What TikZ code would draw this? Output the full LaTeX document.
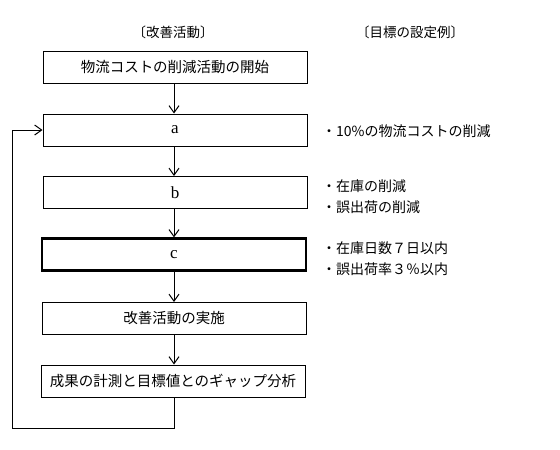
\documentclass[tikz,border=0pt]{standalone}
\usepackage{fontspec}
\newfontfamily\jpfont{Noto Sans CJK JP}
\newfontfamily\letterfont{Liberation Serif}
\usetikzlibrary{arrows.meta}

\tikzset{
  stepbox/.style={draw,line width=1pt,minimum width=264pt,minimum height=32pt,
    inner sep=0pt,font=\jpfont\fontsize{14.5}{16}\selectfont},
  lettertext/.style={font=\letterfont\fontsize{17}{18}\selectfont},
  goaltext/.style={anchor=west,inner sep=0pt,align=left,
    font=\jpfont\fontsize{14}{21}\selectfont},
  headtext/.style={inner sep=0pt,font=\jpfont\fontsize{13.5}{16}\selectfont},
  flow/.style={-{Straight Barb[length=7pt,width=10pt]},line width=1pt}
}

\begin{document}
\begin{tikzpicture}[x=1pt,y=-1pt]
  \useasboundingbox (0,0) rectangle (560,450);

  % headings
  \node[headtext] (hleft) at (173,32) {〔改善活動〕};
  \node[headtext] (hright) at (410,32) {〔目標の設定例〕};

  % flow boxes
  \node[stepbox] (start) at (175,67) {物流コストの削減活動の開始};
  \node[stepbox,lettertext] (a) at (175,130) {a};
  \node[stepbox,lettertext] (b) at (175,192.5) {b};
  \node[stepbox,lettertext,line width=2.2pt] (c) at (174,254.5) {c};
  \node[stepbox] (run) at (174,318.5) {改善活動の実施};
  \node[stepbox] (check) at (173,381) {成果の計測と目標値とのギャップ分析};

  % goals
  \node[goaltext] (ga) at (322,131) {・10\%の物流コストの削減};
  \node[goaltext] (gb) at (322,197) {・在庫の削減\\・誤出荷の削減};
  \node[goaltext] (gc) at (322,258.5) {・在庫日数７日以内\\・誤出荷率３％以内};

  % arrows
  \draw[flow] (start.south -| 174,0) -- (a.north -| 174,0);
  \draw[flow] (a.south -| 174,0) -- (b.north -| 174,0);
  \draw[flow] (b.south -| 174,0) -- (c.north -| 174,0);
  \draw[flow] (c.south -| 174,0) -- (run.north -| 174,0);
  \draw[flow] (run.south -| 174,0) -- (check.north -| 174,0);

  % feedback loop
  \coordinate (loopr) at (174,428);
  \coordinate (loopl) at (12,428);
  \draw[flow] (check.south -| loopr) -- (loopr) -- (loopl) |- (a.west);
\end{tikzpicture}
\end{document}
